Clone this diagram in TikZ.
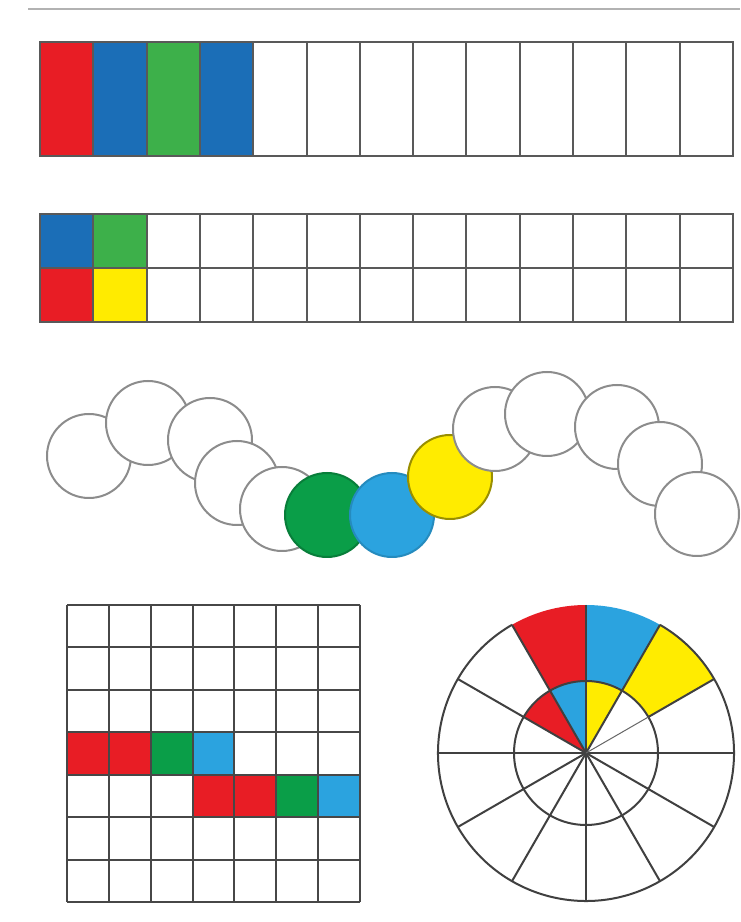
\documentclass[tikz,border=0pt]{standalone}
\begin{document}
\begin{tikzpicture}[x=1pt,y=1pt,
  cell/.style={draw=black!65,line width=2pt},
  gline/.style={draw=black!72,line width=2pt},
  circ/.style={draw=black!45,line width=2pt,fill=white},
  wline/.style={draw=black!75,line width=2pt}]
\definecolor{sred}{HTML}{E81D25}
\definecolor{sblue}{HTML}{1B6EB7}
\definecolor{sgreen}{HTML}{3DB04A}
\definecolor{syellow}{HTML}{FFEB00}
\definecolor{cgreen}{HTML}{0A9E48}
\definecolor{cblue}{HTML}{2BA3DF}
\definecolor{cyellow}{HTML}{FFEC00}
\useasboundingbox[fill=white] (0,0) rectangle (740,922);
% top rule
\draw[black!30,line width=2pt] (28,913) -- (740,913);
% strip 1
\def\cw{53.31}
\foreach \i/\c in {0/sred,1/sblue,2/sgreen,3/sblue}
  \fill[\c] (40+\i*\cw,766) rectangle (40+\i*\cw+\cw,880);
\draw[cell] (40,766) rectangle (733,880);
\foreach \i in {1,...,12} \draw[cell] (40+\i*\cw,766) -- (40+\i*\cw,880);
% strip 2
\fill[sblue] (40,654) rectangle (40+\cw,708);
\fill[sgreen] (40+\cw,654) rectangle (40+2*\cw,708);
\fill[sred] (40,600) rectangle (40+\cw,654);
\fill[syellow] (40+\cw,600) rectangle (40+2*\cw,654);
\draw[cell] (40,600) rectangle (733,708);
\draw[cell] (40,654) -- (733,654);
\foreach \i in {1,...,12} \draw[cell] (40+\i*\cw,600) -- (40+\i*\cw,708);
% caterpillar
\foreach \x/\y in {89/466,148/499,210/482,237/439,282/413}
  \draw[circ] (\x,\y) circle[radius=42pt];
\draw[circ,fill=cgreen,draw=cgreen!80!black] (327,407) circle[radius=42pt];
\draw[circ,fill=cblue,draw=cblue!85!black] (392,407) circle[radius=42pt];
\draw[circ,fill=cyellow,draw=cyellow!60!black] (450,445) circle[radius=42pt];
\foreach \x/\y in {495/493,547/508,617/495,660/458,697/408}
  \draw[circ] (\x,\y) circle[radius=42pt];
% grid
\def\gw{41.86}\def\gh{42.43}
\foreach \i/\c in {0/sred,1/sred,2/cgreen,3/cblue}
  \fill[\c] (67+\i*\gw,317-4*\gh) rectangle (67+\i*\gw+\gw,317-3*\gh);
\foreach \i/\c in {3/sred,4/sred,5/cgreen,6/cblue}
  \fill[\c] (67+\i*\gw,317-5*\gh) rectangle (67+\i*\gw+\gw,317-4*\gh);
\foreach \i in {0,...,7} {
  \draw[gline] (67+\i*\gw,20) -- (67+\i*\gw,317);
  \draw[gline] (67,317-\i*\gh) -- (360,317-\i*\gh);
}
% wheel
\begin{scope}[shift={(586,169)}]
  \fill[sred] (90:72) -- (90:148) arc[start angle=90,end angle=120,radius=148] -- (120:72) arc[start angle=120,end angle=90,radius=72] -- cycle;
  \fill[cblue] (60:72) -- (60:148) arc[start angle=60,end angle=90,radius=148] -- (90:72) arc[start angle=90,end angle=60,radius=72] -- cycle;
  \fill[cyellow] (30:72) -- (30:148) arc[start angle=30,end angle=60,radius=148] -- (60:72) arc[start angle=60,end angle=30,radius=72] -- cycle;
  \fill[sred] (0,0) -- (120:72) arc[start angle=120,end angle=150,radius=72] -- cycle;
  \fill[cblue] (0,0) -- (90:72) arc[start angle=90,end angle=120,radius=72] -- cycle;
  \fill[cyellow] (0,0) -- (60:72) arc[start angle=60,end angle=90,radius=72] -- cycle;
  \draw[wline] (120:148) arc[start angle=120,end angle=420,radius=148];
  \draw[wline] (0,0) circle[radius=72pt];
  \foreach \a in {0,60,90,120,150,...,330} \draw[wline] (0,0) -- (\a:148);
  \draw[wline] (30:72) -- (30:148);
  \draw[black!60,line width=1pt] (0,0) -- (30:72);
\end{scope}
\end{tikzpicture}
\end{document}
